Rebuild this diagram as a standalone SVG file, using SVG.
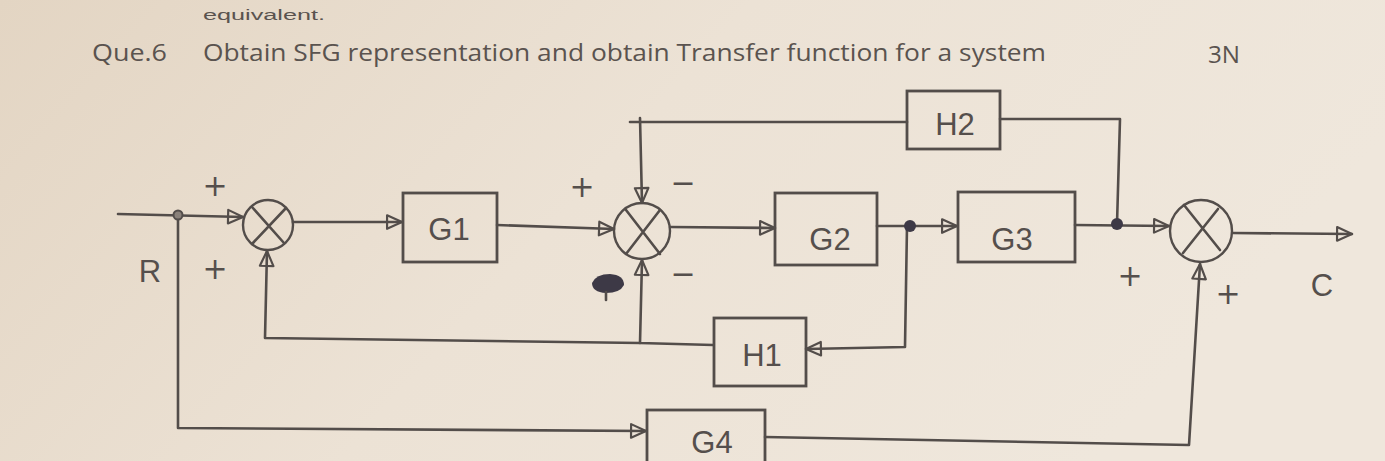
<svg xmlns="http://www.w3.org/2000/svg" width="1385" height="461" viewBox="0 0 1385 461">
<style>
.ink{fill:none;stroke:#534d4a;stroke-width:2.6;stroke-linecap:round;stroke-linejoin:round}
.box{fill:none;stroke:#534d4a;stroke-width:2.8}
.sum{fill:none;stroke:#534d4a;stroke-width:2.4}
.lbl{font-family:"Liberation Sans","DejaVu Sans",sans-serif;fill:#554f4c;font-size:31px;text-anchor:middle}
.sign{font-family:"DejaVu Sans",sans-serif;fill:#554f4c;font-size:30px;text-anchor:middle}
.title{font-family:"Open Sans","Liberation Sans",sans-serif;fill:#5a534f;font-size:24px}
.dot{fill:#3d3946}
</style>
<defs>
<linearGradient id="bg" x1="0" y1="0" x2="1" y2="0.3">
<stop offset="0" stop-color="#e3d5c3"/>
<stop offset="0.5" stop-color="#ece2d5"/>
<stop offset="1" stop-color="#efe7dc"/>
</linearGradient>
<marker id="arr" viewBox="0 0 14 14" refX="13" refY="7" markerWidth="19" markerHeight="19" markerUnits="userSpaceOnUse" orient="auto">
<path d="M2,2 L13,7 L2,12 Z" fill="none" stroke="#534d4a" stroke-width="1.6" stroke-linejoin="round"/>
</marker>
</defs>
<rect x="0" y="0" width="1385" height="461" fill="url(#bg)"/>

<g id="title">
<text x="203" y="20" font-family="Liberation Sans, sans-serif" font-size="14" fill="#5a534f" textLength="122" lengthAdjust="spacingAndGlyphs">equivalent.</text>
<text class="title" x="92" y="61" textLength="75" lengthAdjust="spacingAndGlyphs">Que.6</text>
<text class="title" x="203" y="61" textLength="843" lengthAdjust="spacingAndGlyphs">Obtain SFG representation  and obtain Transfer function for a system</text>
<text class="title" x="1208" y="63" textLength="32" lengthAdjust="spacingAndGlyphs">3N</text>
</g>

<g id="connectors">
<path class="ink" d="M118,214 L243,217" marker-end="url(#arr)"/>
<path class="ink" d="M178,215 L178,428 L646,431" marker-end="url(#arr)"/>
<path class="ink" d="M293,222 L402,222" marker-end="url(#arr)"/>
<path class="ink" d="M497,225 L614,229" marker-end="url(#arr)"/>
<path class="ink" d="M670,227 L775,228" marker-end="url(#arr)"/>
<path class="ink" d="M877,226 L957,226" marker-end="url(#arr)"/>
<path class="ink" d="M1075,225 L1169,226" marker-end="url(#arr)"/>
<path class="ink" d="M1233,233 L1352,234" marker-end="url(#arr)"/>
<path class="ink" d="M1117,224 L1120,119 L1000,119"/>
<path class="ink" d="M907,122 L630,122"/>
<path class="ink" d="M640,118 L642,203" marker-end="url(#arr)"/>
<path class="ink" d="M907,226 L905,347 L806,349" marker-end="url(#arr)"/>
<path class="ink" d="M713,345 L640,343 L642,260" marker-end="url(#arr)"/>
<path class="ink" d="M640,343 L265,338 L267,251" marker-end="url(#arr)"/>
<path class="ink" d="M765,437 L1189,445 L1200,264" marker-end="url(#arr)"/>
<circle cx="178" cy="215" r="4.5" fill="#8a817a" stroke="#534d4a" stroke-width="2"/>
<circle class="dot" cx="910" cy="226" r="6"/>
<circle class="dot" cx="1117" cy="224" r="6"/>
<path d="M592,283 Q596,274 610,274 Q624,275 624,285 Q620,293 606,293 Q592,292 592,283 Z" fill="#3d3946"/>
<path class="ink" d="M606,292 L606,300" stroke="#3d3946"/>
</g>

<g id="S1">
<circle class="sum" cx="268" cy="225" r="25"/>
<path class="ink" d="M252,207 L284,243 M286,208 L252,244"/>
<text class="sign" x="215" y="196">+</text>
<text class="sign" x="215" y="279">+</text>
</g>

<g id="G1">
<rect class="box" x="403" y="193" width="94" height="69"/>
<text class="lbl" x="449" y="240">G1</text>
</g>

<g id="S2">
<circle class="sum" cx="642" cy="231" r="28"/>
<path class="ink" d="M626,210 L660,254 M660,210 L626,254"/>
<text class="sign" x="582" y="197">+</text>
<text class="sign" x="683" y="193">−</text>
<text class="sign" x="683" y="284">−</text>
</g>

<g id="G2">
<rect class="box" x="775" y="193" width="102" height="72"/>
<text class="lbl" x="830" y="250">G2</text>
</g>

<g id="G3">
<rect class="box" x="958" y="192" width="117" height="70"/>
<text class="lbl" x="1012" y="250">G3</text>
</g>

<g id="H2">
<rect class="box" x="907" y="91" width="93" height="58"/>
<text class="lbl" x="955" y="135">H2</text>
</g>

<g id="H1">
<rect class="box" x="714" y="318" width="92" height="68"/>
<text class="lbl" x="762" y="366">H1</text>
</g>

<g id="G4">
<rect class="box" x="647" y="410" width="118" height="60"/>
<text class="lbl" x="712" y="453" font-size="28">G4</text>
</g>

<g id="S3">
<circle class="sum" cx="1201" cy="231" r="31"/>
<path class="ink" d="M1184,205 L1220,250 M1218,209 L1183,253"/>
<text class="sign" x="1130" y="286">+</text>
<text class="sign" x="1228" y="304">+</text>
</g>

<g id="labels">
<text class="lbl" x="150" y="282" font-size="36">R</text>
<text class="lbl" x="1322" y="296" font-size="32">C</text>
</g>
</svg>
